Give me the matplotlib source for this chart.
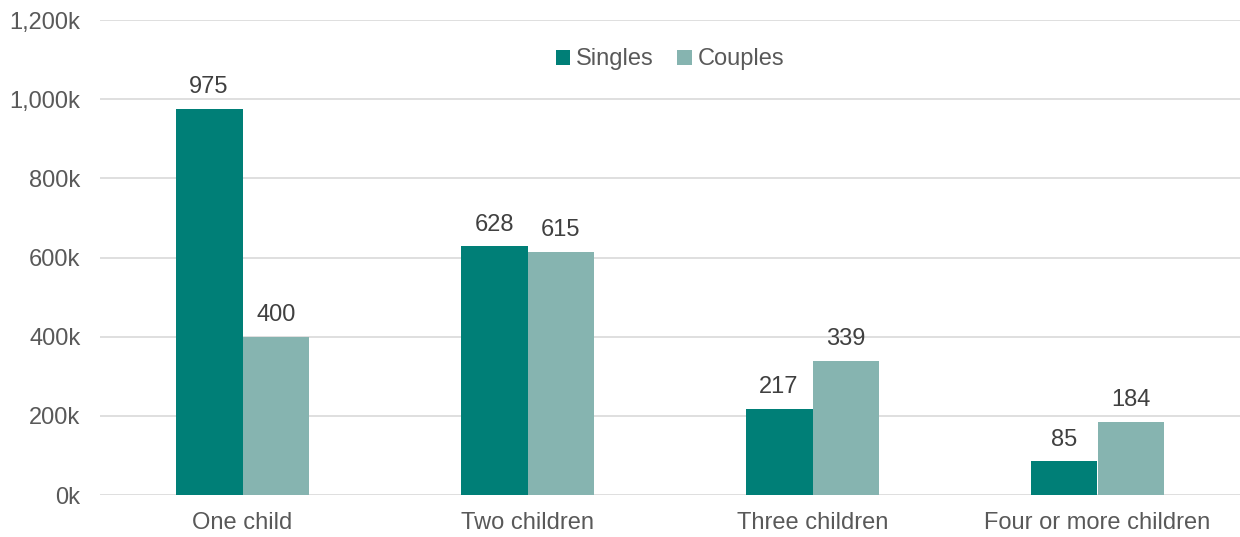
import matplotlib.pyplot as plt
import numpy as np

categories = ["One child", "Two children", "Three children", "Four or more children"]
singles = [975, 628, 217, 85]
couples = [400, 615, 339, 184]
yticks = [0, 200, 400, 600, 800, 1000, 1200]

plt.rcParams.update({
    "font.family": ["Liberation Sans", "DejaVu Sans"],
    "text.color": "#595959",
    "xtick.color": "#595959",
    "ytick.color": "#595959",
})

fig = plt.figure(figsize=(12.4, 5.37), dpi=100, facecolor="white")
ax = fig.add_axes([100 / 1240, 42 / 537, 1140 / 1240, 475 / 537])

x = np.arange(len(categories))
w = 0.235
b1 = ax.bar(x - w / 2, singles, width=w, color="#007f77", label="Singles", zorder=3)
b2 = ax.bar(x + w / 2, couples, width=w, color="#86b4b0", label="Couples", zorder=3)

for bars, vals in ((b1, singles), (b2, couples)):
    for b, v in zip(bars, vals):
        ax.text(b.get_x() + b.get_width() / 2, v + 27, f"{v}",
                ha="center", va="bottom", fontsize=17, color="#404040")

ax.set_xlim(-0.5, 3.5)
ax.set_ylim(0, 1200)
ax.set_yticks(yticks)
ax.set_yticklabels([f"{v:,}k" for v in yticks], fontsize=17)
ax.set_xticks(x)
ax.set_xticklabels(categories, fontsize=17)
ax.tick_params(axis="x", length=0, pad=12)
ax.tick_params(axis="y", length=0, pad=14)
ax.grid(axis="y", color="#d9d9d9", linewidth=1.2, zorder=0)
for s in ax.spines.values():
    s.set_visible(False)

leg = ax.legend(loc="upper center", bbox_to_anchor=(0.5, 0.985), ncol=2, frameon=False,
                fontsize=17, handlelength=0.6, handleheight=0.6, handletextpad=0.25,
                columnspacing=1.0)

fig.savefig("out.png", dpi=100)
